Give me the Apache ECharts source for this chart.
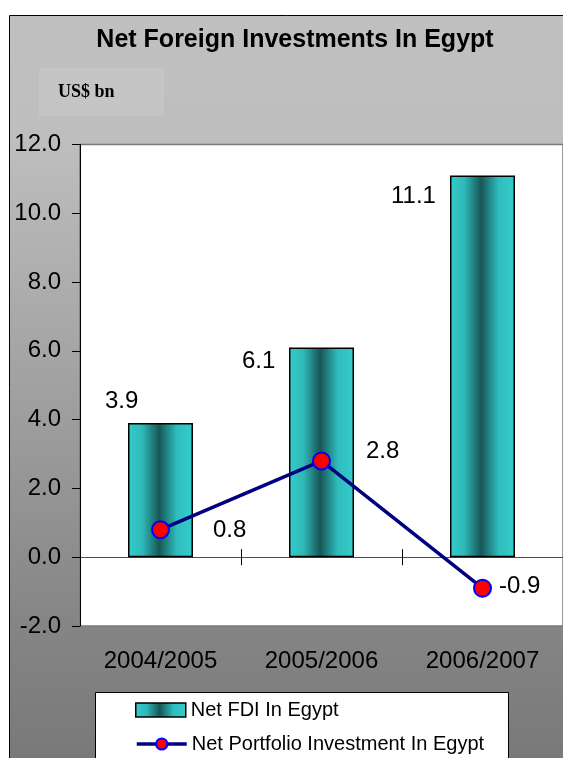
<!DOCTYPE html>
<html>
<head>
<meta charset="utf-8">
<style>
  html, body { margin: 0; padding: 0; background: #ffffff; }
  #chart { width: 563px; height: 758px; }
</style>
<script src="https://cdn.jsdelivr.net/npm/echarts@6/dist/echarts.min.js"></script>
</head>
<body>
<div id="chart"></div>
<script>
// Fiscal years on the category axis
var years = ['2004/2005', '2005/2006', '2006/2007'];
// Net FDI, US$ bn
var fdiValues = [3.9, 6.1, 11.1];
// Net portfolio investment, US$ bn
var portfolioValues = [0.8, 2.8, -0.9];
// Value axis range and step
var yMin = -2, yMax = 12, yStep = 2;

var FONT = '"Liberation Sans", Arial, sans-serif';
var LABEL_SIZE = 24;

// Per-bar placement of the value labels (relative to the bar's top-left corner)
var fdiLabelPos = [[-23, -22], [-47, 14], [-59, 20.5]];
// Per-point nudges of the portfolio labels
var portfolioLabelOffset = [[43, 1], [35, -10], [7, -1.5]];

var barFill = new echarts.graphic.LinearGradient(0, 0, 1, 0, [
  { offset: 0, color: '#35cccc' },
  { offset: 0.22, color: '#2fb9b9' },
  { offset: 0.48, color: '#185656' },
  { offset: 0.75, color: '#2fbdbd' },
  { offset: 1, color: '#35cccc' }
]);

var fdiData = fdiValues.map(function (v, i) {
  return {
    value: v,
    label: {
      show: true,
      position: fdiLabelPos[i],
      align: 'left',
      verticalAlign: 'middle',
      formatter: function (p) { return p.value.toFixed(1); }
    }
  };
});

var portfolioData = portfolioValues.map(function (v, i) {
  return {
    value: v,
    label: {
      show: true,
      position: 'right',
      distance: 0,
      offset: portfolioLabelOffset[i],
      align: 'left',
      verticalAlign: 'middle',
      formatter: function (p) { return p.value.toFixed(1); }
    }
  };
});

var chart = echarts.init(document.getElementById('chart'), null, { renderer: 'canvas' });

var categoryBase = {
  type: 'category',
  data: years,
  gridIndex: 0,
  position: 'bottom'
};

var valueBase = {
  type: 'value',
  min: yMin,
  max: yMax,
  interval: yStep,
  gridIndex: 0,
  position: 'left'
};

var legendBase = {
  orient: 'horizontal',
  left: 130,
  itemWidth: 50,
  itemHeight: 14,
  itemGap: 8,
  textStyle: { fontSize: 20, color: '#000000', fontFamily: FONT }
};

chart.setOption({
  animation: false,
  backgroundColor: '#ffffff',
  textStyle: { fontFamily: FONT },
  graphic: [
    {
      type: 'rect',
      z: -10,
      silent: true,
      shape: { x: 9.5, y: 15.5, width: 620, height: 800 },
      style: {
        fill: new echarts.graphic.LinearGradient(0, 15, 0, 758, [
          { offset: 0, color: '#c0c0c0' },
          { offset: 0.17, color: '#bebebe' },
          { offset: 0.82, color: '#858585' },
          { offset: 1, color: '#797979' }
        ], true),
        stroke: '#000000',
        lineWidth: 1
      }
    },
    {
      type: 'rect',
      z: -9,
      silent: true,
      shape: { x: 39, y: 68, width: 125, height: 48 },
      style: { fill: '#c5c5c5' }
    },
    {
      type: 'text',
      z: 5,
      silent: true,
      x: 58, y: 92,
      style: {
        text: 'US$ bn',
        fill: '#000000',
        font: 'bold 18px "Liberation Serif", "Times New Roman", serif',
        verticalAlign: 'middle',
        align: 'left'
      }
    },
    {
      type: 'text',
      z: 5,
      silent: true,
      x: 295, y: 40,
      style: {
        text: 'Net Foreign Investments In Egypt',
        fill: '#000000',
        font: 'bold 25px ' + FONT,
        align: 'center',
        verticalAlign: 'middle'
      }
    },
    {
      type: 'rect',
      z: -5,
      silent: true,
      shape: { x: 95.5, y: 692.5, width: 413, height: 100 },
      style: { fill: '#ffffff', stroke: '#000000', lineWidth: 1 }
    }
  ],
  grid: {
    left: 80,
    top: 144.5,
    right: 0,
    bottom: 132,
    show: true,
    backgroundColor: '#ffffff',
    borderColor: '#7a7a7a',
    borderWidth: 1.5
  },
  legend: [
    Object.assign({}, legendBase, {
      top: 695,
      icon: 'rect',
      itemStyle: { borderColor: '#000000', borderWidth: 1.5 },
      data: ['Net FDI In Egypt']
    }),
    Object.assign({}, legendBase, {
      top: 729,
      lineStyle: { width: 3.5 },
      data: ['Net Portfolio Investment In Egypt']
    })
  ],
  xAxis: [
    // Category labels along the bottom edge
    Object.assign({}, categoryBase, {
      axisLine: { show: false, onZero: false },
      axisTick: { show: false },
      axisLabel: { fontSize: LABEL_SIZE, color: '#000000', margin: 23, fontFamily: FONT }
    }),
    // Zero line with downward ticks
    Object.assign({}, categoryBase, {
      axisLine: { show: true, onZero: true, onZeroAxisIndex: 0, lineStyle: { color: '#4d4d4d', width: 1 } },
      axisTick: { show: true, inside: false, length: 8, lineStyle: { color: '#000000' } },
      axisLabel: { show: false }
    }),
    // Zero line with upward ticks (together they cross the line)
    Object.assign({}, categoryBase, {
      axisLine: { show: true, onZero: true, onZeroAxisIndex: 1, lineStyle: { color: '#4d4d4d', width: 1 } },
      axisTick: { show: true, inside: true, length: 8, lineStyle: { color: '#000000' } },
      axisLabel: { show: false }
    })
  ],
  yAxis: [
    Object.assign({}, valueBase, {
      axisLine: { show: true, lineStyle: { color: '#000000', width: 1 } },
      axisTick: { show: true, length: 8, lineStyle: { color: '#000000' } },
      splitLine: { show: false },
      axisLabel: {
        fontSize: LABEL_SIZE,
        color: '#000000',
        margin: 19,
        fontFamily: FONT,
        formatter: function (v) { return v.toFixed(1); }
      }
    }),
    // Twin of the value axis, only used to anchor the second zero line
    Object.assign({}, valueBase, {
      axisLine: { show: false },
      axisTick: { show: false },
      axisLabel: { show: false },
      splitLine: { show: false }
    })
  ],
  series: [
    {
      name: 'Net FDI In Egypt',
      type: 'bar',
      xAxisIndex: 0,
      yAxisIndex: 0,
      barWidth: 65,
      data: fdiData,
      itemStyle: { color: barFill, borderColor: '#000000', borderWidth: 1.5 },
      label: { color: '#000000', fontSize: LABEL_SIZE, fontFamily: FONT },
      z: 2
    },
    {
      name: 'Net Portfolio Investment In Egypt',
      type: 'line',
      xAxisIndex: 0,
      yAxisIndex: 0,
      data: portfolioData,
      symbol: 'circle',
      symbolSize: 17,
      lineStyle: { color: '#000080', width: 3.5 },
      itemStyle: { color: '#ff0000', borderColor: '#0000ff', borderWidth: 2 },
      label: { color: '#000000', fontSize: LABEL_SIZE, fontFamily: FONT },
      z: 4
    }
  ]
});
</script>
</body>
</html>
